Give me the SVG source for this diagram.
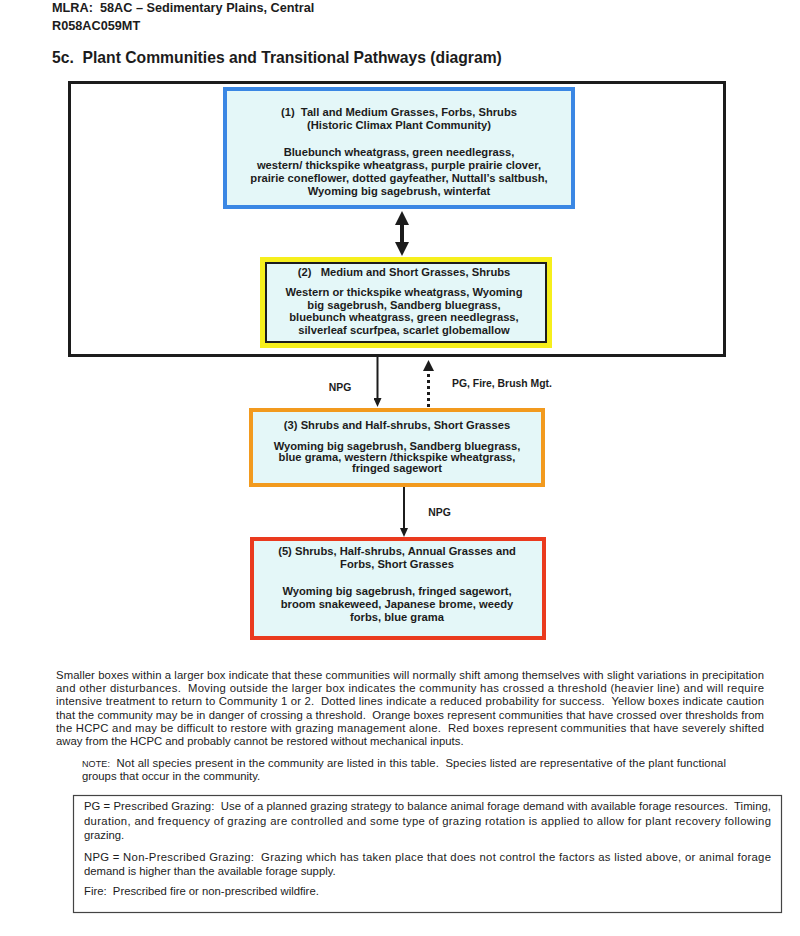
<svg xmlns="http://www.w3.org/2000/svg" width="800" height="936" viewBox="0 0 800 936">
<style>
text{font-family:"Liberation Sans",Arial,sans-serif;fill:#1c1c1c;white-space:pre}
.hd{font-weight:bold;font-size:12.7px}
.ttl{font-weight:bold;font-size:15.7px}
.bx{font-weight:bold;font-size:11.2px;text-anchor:middle}
.lbl{font-weight:bold;font-size:10.4px}
.para{font-size:11.3px}
.fill{fill:#e4f7f8}
.conn{stroke:#1c1c1c;fill:none}
</style>
<defs>
<marker id="headBig" markerUnits="userSpaceOnUse" markerWidth="14" markerHeight="14" refX="4" refY="7" orient="auto-start-reverse"><path d="M0,0 L14,7 L0,14 z" fill="#1c1c1c"/></marker>
<marker id="headSmall" markerUnits="userSpaceOnUse" markerWidth="9" markerHeight="8" refX="3" refY="4" orient="auto"><path d="M0,0 L9,4 L0,8 z" fill="#1c1c1c"/></marker>
<marker id="headMid" markerUnits="userSpaceOnUse" markerWidth="11" markerHeight="11" refX="3" refY="5.5" orient="auto"><path d="M0,0 L11,5.5 L0,11 z" fill="#1c1c1c"/></marker>
</defs>
<rect width="800" height="936" fill="#ffffff"/>

<g id="header">
<text class="hd" x="52" y="12">MLRA:  58AC – Sedimentary Plains, Central</text>
<text class="hd" x="52" y="30">R058AC059MT</text>
<text class="ttl" x="52" y="63">5c.  Plant Communities and Transitional Pathways (diagram)</text>
</g>

<g id="threshold-box">
<rect x="69.5" y="82.5" width="655" height="273" fill="none" stroke="#1c1c1c" stroke-width="3"/>
</g>

<g id="community-1">
<rect class="fill" x="225" y="89" width="348" height="118" stroke="#3a87e4" stroke-width="4"/>
<text class="bx" x="399" y="116">(1)  Tall and Medium Grasses, Forbs, Shrubs</text>
<text class="bx" x="399" y="129">(Historic Climax Plant Community)</text>
<text class="bx" x="399" y="156">Bluebunch wheatgrass, green needlegrass,</text>
<text class="bx" x="399" y="169">western/ thickspike wheatgrass, purple prairie clover,</text>
<text class="bx" x="399" y="182">prairie coneflower, dotted gayfeather, Nuttall’s saltbush,</text>
<text class="bx" x="399" y="195">Wyoming big sagebrush, winterfat</text>
</g>

<g id="community-2">
<rect x="263" y="260" width="286" height="85" fill="none" stroke="#f6ef1c" stroke-width="6"/>
<rect class="fill" x="266" y="263" width="280" height="79" stroke="#1c1c1c" stroke-width="2"/>
<text class="bx" x="404" y="276">(2)   Medium and Short Grasses, Shrubs</text>
<text class="bx" x="404" y="296">Western or thickspike wheatgrass, Wyoming</text>
<text class="bx" x="404" y="309">big sagebrush, Sandberg bluegrass,</text>
<text class="bx" x="404" y="321">bluebunch wheatgrass, green needlegrass,</text>
<text class="bx" x="404" y="334">silverleaf scurfpea, scarlet globemallow</text>
</g>

<g id="community-3">
<rect class="fill" x="251" y="410" width="292" height="75" stroke="#f29a1e" stroke-width="4"/>
<text class="bx" x="397" y="429">(3) Shrubs and Half-shrubs, Short Grasses</text>
<text class="bx" x="397" y="450">Wyoming big sagebrush, Sandberg bluegrass,</text>
<text class="bx" x="397" y="461">blue grama, western /thickspike wheatgrass,</text>
<text class="bx" x="397" y="472">fringed sagewort</text>
</g>

<g id="community-5">
<rect class="fill" x="252" y="539" width="292" height="99" stroke="#ea3a1e" stroke-width="4"/>
<text class="bx" x="397" y="555">(5) Shrubs, Half-shrubs, Annual Grasses and</text>
<text class="bx" x="397" y="568">Forbs, Short Grasses</text>
<text class="bx" x="397" y="595">Wyoming big sagebrush, fringed sagewort,</text>
<text class="bx" x="397" y="608">broom snakeweed, Japanese brome, weedy</text>
<text class="bx" x="397" y="621">forbs, blue grama</text>
</g>

<g id="connectors">
<line class="conn" x1="402" y1="221" x2="402" y2="246" stroke-width="4" marker-start="url(#headBig)" marker-end="url(#headBig)"/>
<line class="conn" x1="377.5" y1="357" x2="377.5" y2="401" stroke-width="2" marker-end="url(#headSmall)"/>
<line class="conn" x1="428.5" y1="407" x2="428.5" y2="368" stroke-width="3" stroke-dasharray="3,3" marker-end="url(#headMid)"/>
<line class="conn" x1="404" y1="487" x2="404" y2="531" stroke-width="2" marker-end="url(#headSmall)"/>
<text class="lbl" x="340" y="391" text-anchor="middle">NPG</text>
<text class="lbl" x="452" y="387">PG, Fire, Brush Mgt.</text>
<text class="lbl" x="439.5" y="516" text-anchor="middle">NPG</text>
</g>

<g id="legend">
<text class="para" x="56" y="679" textLength="708">Smaller boxes within a larger box indicate that these communities will normally shift among themselves with slight variations in precipitation</text>
<text class="para" x="56" y="692.2" textLength="708">and other disturbances.  Moving outside the larger box indicates the community has crossed a threshold (heavier line) and will require</text>
<text class="para" x="56" y="705.4" textLength="708">intensive treatment to return to Community 1 or 2.  Dotted lines indicate a reduced probability for success.  Yellow boxes indicate caution</text>
<text class="para" x="56" y="718.6" textLength="708">that the community may be in danger of crossing a threshold.  Orange boxes represent communities that have crossed over thresholds from</text>
<text class="para" x="56" y="731.8" textLength="708">the HCPC and may be difficult to restore with grazing management alone.  Red boxes represent communities that have severely shifted</text>
<text class="para" x="56" y="745">away from the HCPC and probably cannot be restored without mechanical inputs.</text>
<text class="para" x="82" y="767" textLength="644"><tspan font-size="9">NOTE:</tspan>  Not all species present in the community are listed in this table.  Species listed are representative of the plant functional</text>
<text class="para" x="82" y="780">groups that occur in the community.</text>
</g>

<g id="definitions">
<rect x="73.5" y="795.5" width="708" height="117" fill="none" stroke="#444" stroke-width="1.2"/>
<text class="para" x="84" y="810" textLength="687">PG = Prescribed Grazing:  Use of a planned grazing strategy to balance animal forage demand with available forage resources.  Timing,</text>
<text class="para" x="84" y="824.5" textLength="687">duration, and frequency of grazing are controlled and some type of grazing rotation is applied to allow for plant recovery following</text>
<text class="para" x="84" y="839">grazing.</text>
<text class="para" x="84" y="861" textLength="687">NPG = Non-Prescribed Grazing:  Grazing which has taken place that does not control the factors as listed above, or animal forage</text>
<text class="para" x="84" y="874.5">demand is higher than the available forage supply.</text>
<text class="para" x="84" y="895">Fire:  Prescribed fire or non-prescribed wildfire.</text>
</g>
</svg>
